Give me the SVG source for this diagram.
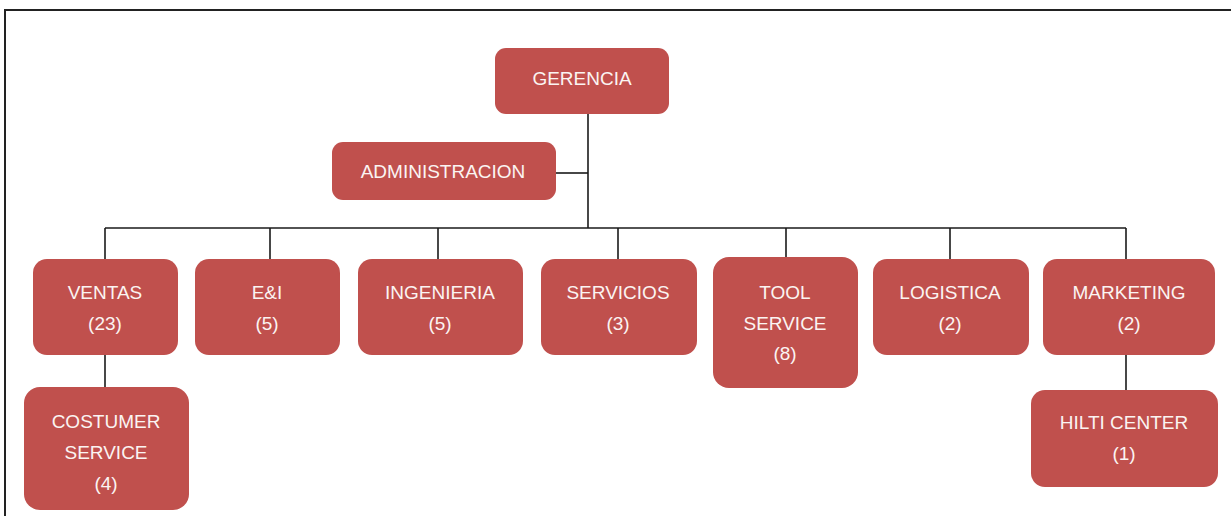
<svg xmlns="http://www.w3.org/2000/svg" width="1231" height="516" viewBox="0 0 1231 516">
  <style>
    .box { fill: #C0504D; }
    .lbl { font-family: "Liberation Sans", Arial, sans-serif; font-size: 19px; fill: #FBF4F2; text-anchor: middle; }
    .wire { stroke: #1a1a1a; stroke-width: 1.6; fill: none; }
    .frame { stroke: #222; stroke-width: 2; fill: none; }
  </style>
  <rect x="0" y="0" width="1231" height="516" fill="#ffffff"/>
  <path class="frame" d="M5,516 V10 H1231"/>

  <g id="connectors">
    <path class="wire" d="M588,114 V228"/>
    <path class="wire" d="M556,173 H588"/>
    <path class="wire" d="M105,228 H1126"/>
    <path class="wire" d="M105,228 V259"/>
    <path class="wire" d="M270,228 V259"/>
    <path class="wire" d="M438,228 V259"/>
    <path class="wire" d="M618,228 V259"/>
    <path class="wire" d="M786,228 V257"/>
    <path class="wire" d="M950,228 V259"/>
    <path class="wire" d="M1126,228 V259"/>
    <path class="wire" d="M105,355 V387"/>
    <path class="wire" d="M1126,355 V390"/>
  </g>

  <g id="gerencia">
    <rect class="box" x="495" y="48" width="174" height="66" rx="11"/>
    <text class="lbl" x="582" y="85">GERENCIA</text>
  </g>
  <g id="administracion">
    <rect class="box" x="332" y="142" width="224" height="58" rx="11"/>
    <text class="lbl" x="443" y="178">ADMINISTRACION</text>
  </g>
  <g id="ventas">
    <rect class="box" x="33" y="259" width="145" height="96" rx="14"/>
    <text class="lbl" x="105" y="299">VENTAS</text>
    <text class="lbl" x="105" y="330">(23)</text>
  </g>
  <g id="eyi">
    <rect class="box" x="195" y="259" width="145" height="96" rx="14"/>
    <text class="lbl" x="267" y="299">E&amp;I</text>
    <text class="lbl" x="267" y="330">(5)</text>
  </g>
  <g id="ingenieria">
    <rect class="box" x="358" y="259" width="165" height="96" rx="14"/>
    <text class="lbl" x="440" y="299">INGENIERIA</text>
    <text class="lbl" x="440" y="330">(5)</text>
  </g>
  <g id="servicios">
    <rect class="box" x="541" y="259" width="156" height="96" rx="14"/>
    <text class="lbl" x="618" y="299">SERVICIOS</text>
    <text class="lbl" x="618" y="330">(3)</text>
  </g>
  <g id="tool-service">
    <rect class="box" x="713" y="257" width="145" height="131" rx="16"/>
    <text class="lbl" x="785" y="299">TOOL</text>
    <text class="lbl" x="785" y="330">SERVICE</text>
    <text class="lbl" x="785" y="360">(8)</text>
  </g>
  <g id="logistica">
    <rect class="box" x="873" y="259" width="156" height="96" rx="14"/>
    <text class="lbl" x="950" y="299">LOGISTICA</text>
    <text class="lbl" x="950" y="330">(2)</text>
  </g>
  <g id="marketing">
    <rect class="box" x="1043" y="259" width="172" height="96" rx="14"/>
    <text class="lbl" x="1129" y="299">MARKETING</text>
    <text class="lbl" x="1129" y="330">(2)</text>
  </g>
  <g id="costumer-service">
    <rect class="box" x="24" y="387" width="165" height="123" rx="16"/>
    <text class="lbl" x="106" y="428">COSTUMER</text>
    <text class="lbl" x="106" y="459">SERVICE</text>
    <text class="lbl" x="106" y="490">(4)</text>
  </g>
  <g id="hilti-center">
    <rect class="box" x="1031" y="390" width="187" height="97" rx="14"/>
    <text class="lbl" x="1124" y="429">HILTI CENTER</text>
    <text class="lbl" x="1124" y="460">(1)</text>
  </g>
</svg>
